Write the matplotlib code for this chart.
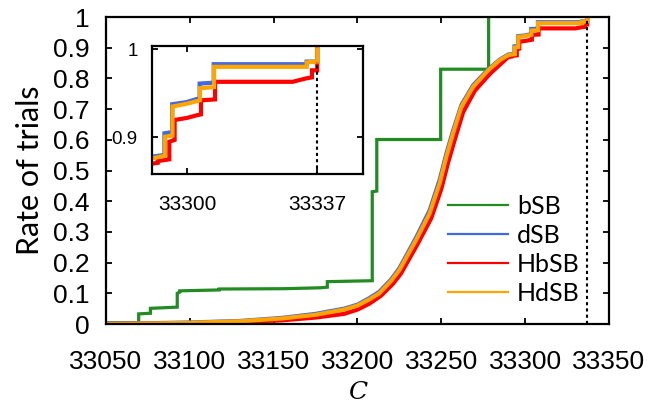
import matplotlib
matplotlib.use("Agg")
import matplotlib.pyplot as plt
from matplotlib.lines import Line2D

# bSB (green) step curve
c_bsb = [33050, 33069.5, 33069.5, 33076.5, 33076.5, 33092.5, 33092.5, 33094, 33094,
         33117.5, 33117.5, 33156, 33178, 33182, 33182, 33208.8, 33208.8, 33211.5, 33211.5,
         33249.6, 33249.6, 33278.2, 33278.2]
r_bsb = [0.004, 0.004, 0.033, 0.035, 0.051, 0.055, 0.100, 0.104, 0.108,
         0.111, 0.114, 0.115, 0.118, 0.12, 0.138, 0.141, 0.431, 0.433, 0.601,
         0.601, 0.83, 0.83, 1.0]

# dSB (blue)
c_dsb = [33050, 33080, 33100, 33130, 33155, 33175, 33192, 33200, 33207, 33213, 33220, 33225,
         33235, 33243, 33249, 33253, 33257, 33262, 33269, 33278, 33285, 33290,
         33293.6, 33293.6, 33295.8, 33295.8, 33299.9, 33302.8, 33303.6, 33303.6, 33307.6, 33307.6,
         33334, 33334, 33337, 33337]
r_dsb = [0.0, 0.003, 0.005, 0.010, 0.020, 0.033, 0.050, 0.063, 0.084, 0.105, 0.145, 0.182,
         0.282, 0.370, 0.470, 0.555, 0.630, 0.714, 0.778, 0.830, 0.862, 0.878,
         0.880, 0.9045, 0.906, 0.9375, 0.940, 0.9435, 0.9435, 0.961, 0.962, 0.983,
         0.983, 0.986, 0.986, 1.0]

# HbSB (red)
c_hbsb = [33050, 33100, 33130, 33155, 33175, 33192, 33200, 33207, 33214, 33221, 33226,
          33236, 33244, 33250, 33254, 33258, 33263, 33270, 33279, 33286, 33290,
          33291.7, 33291.7, 33295, 33295, 33296.5, 33296.5,
          33300, 33302.8, 33304, 33304, 33308, 33308, 33330, 33334, 33335.5, 33335.5, 33337, 33337]
r_hbsb = [0.0, 0.002, 0.006, 0.012, 0.021, 0.033, 0.047, 0.066, 0.092, 0.130, 0.165,
          0.262, 0.345, 0.440, 0.525, 0.600, 0.690, 0.760, 0.815, 0.850, 0.870,
          0.871, 0.873, 0.875, 0.895, 0.897, 0.9197,
          0.922, 0.925, 0.926, 0.942, 0.943, 0.963, 0.963, 0.967, 0.968, 0.976, 0.976, 1.0]

# HdSB (orange)
c_hdsb = [33050, 33080, 33100, 33130, 33155, 33175, 33192, 33200, 33207, 33213, 33220, 33225,
          33235, 33243, 33249, 33253, 33257, 33262, 33269, 33278, 33285, 33290,
          33293.8, 33293.8, 33295.9, 33295.9, 33299.9, 33303.7, 33303.7, 33307.7, 33307.7,
          33334, 33334, 33337, 33337]
r_hdsb = [0.0, 0.002, 0.004, 0.009, 0.018, 0.030, 0.047, 0.060, 0.080, 0.100, 0.140, 0.176,
          0.274, 0.360, 0.458, 0.545, 0.621, 0.708, 0.773, 0.827, 0.860, 0.876,
          0.879, 0.9007, 0.902, 0.935, 0.938, 0.942, 0.9557, 0.957, 0.980,
          0.980, 0.985, 0.986, 1.0]

best_c = 33337
x_ticks = [33050, 33100, 33150, 33200, 33250, 33300, 33350]
y_ticks = [0, 0.1, 0.2, 0.3, 0.4, 0.5, 0.6, 0.7, 0.8, 0.9, 1]
y_ticklabels = ["0", "0.1", "0.2", "0.3", "0.4", "0.5", "0.6", "0.7", "0.8", "0.9", "1"]

series = [
    ("bSB", c_bsb, r_bsb, "#228b22", 2.3),
    ("dSB", c_dsb, r_dsb, "#4169e1", 3.0),
    ("HbSB", c_hbsb, r_hbsb, "#ff0000", 3.0),
    ("HdSB", c_hdsb, r_hdsb, "#ffa500", 3.0),
]

TICK_FONT = "Liberation Sans"
LABEL_FONT = "Lato"

fig = plt.figure(figsize=(6.64, 4.09), dpi=100)
ax = fig.add_axes([0.1596, 0.2078, 0.7576, 0.7506])

for label, c, r, color, lw in series:
    ax.plot(c, r, color=color, lw=lw, solid_joinstyle="miter")
ax.plot([best_c, best_c], [0, 1], color="black", lw=1.5, linestyle=(0, (1.5, 1.5)))

ax.set_xlim(33050, 33350)
ax.set_ylim(0, 1)
ax.set_xticks(x_ticks)
ax.set_xticklabels([str(v) for v in x_ticks], fontfamily=TICK_FONT, fontsize=19)
ax.set_yticks(y_ticks)
ax.set_yticklabels(y_ticklabels, fontfamily=TICK_FONT, fontsize=19)
ax.tick_params(direction="in", top=True, right=True, length=4.5, width=1.3)
ax.tick_params(axis="x", pad=19)
ax.tick_params(axis="y", pad=12)
for s in ax.spines.values():
    s.set_linewidth(1.6)

ax.set_ylabel("Rate of trials", fontfamily=LABEL_FONT, fontsize=22, labelpad=6)
ax.set_xlabel("C", fontfamily="DejaVu Serif", fontstyle="italic", fontsize=18, labelpad=5)

handles = [Line2D([], [], color=color, lw=1.6) for _, _, _, color, _ in series]
ax.legend(handles, [s[0] for s in series], loc="upper left", bbox_to_anchor=(0.68, 0.42),
          frameon=False, borderpad=0, borderaxespad=0, handlelength=2.4,
          handletextpad=0.35, labelspacing=0.24, prop={"family": LABEL_FONT, "size": 18})

# inset zoom near the best cut value
ins = fig.add_axes([0.2285, 0.5738, 0.3182, 0.3145])
for label, c, r, color, lw in series[1:]:
    ins.plot(c, r, color=color, lw=lw, solid_joinstyle="miter")
ins.plot([best_c, best_c], [0.85, 0.986], color="black", lw=1.5, linestyle=(0, (1.5, 1.5)))
ins.set_xlim(33290, 33350)
ins.set_ylim(0.858, 1.004)
ins.set_xticks([33300, 33337])
ins.set_xticklabels(["33300", "33337"], fontfamily=TICK_FONT, fontsize=15)
ins.set_yticks([0.9, 1])
ins.set_yticklabels(["0.9", "1"], fontfamily=TICK_FONT, fontsize=13.5)
ins.tick_params(direction="in", top=True, right=True, length=4.5, width=1.3)
ins.tick_params(axis="x", pad=15)
ins.tick_params(axis="y", pad=10)
for s in ins.spines.values():
    s.set_linewidth(1.6)

fig.savefig("out.png", dpi=100)
